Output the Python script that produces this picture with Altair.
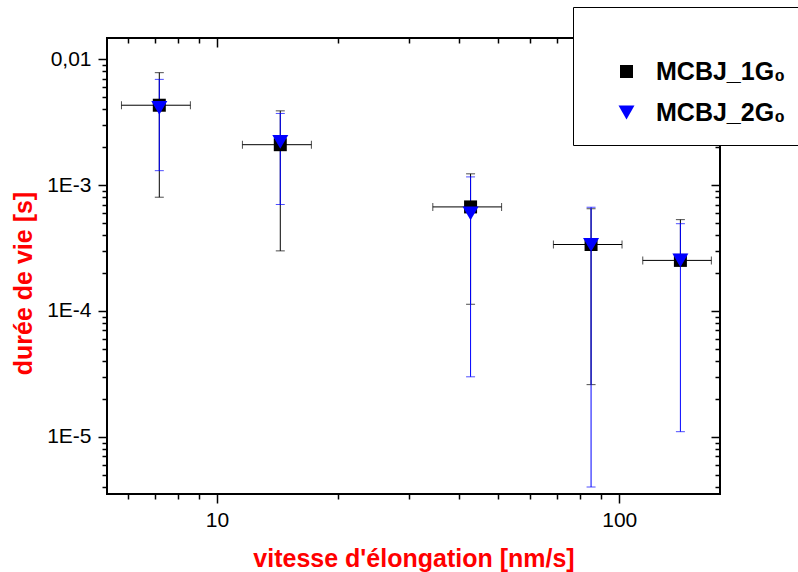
import altair as alt
import pandas as pd

# ---- data ----
series_names = ["MCBJ_1G₀", "MCBJ_2G₀"]
series_colors = ["black", "blue"]
rate = [7.19, 14.37, 42.7, 85.1, 141.9]              # nm/s
rate_err = [1.4, 2.8, 8.3, 16.5, 27.5]
life_1g0 = [4.3e-3, 2.09e-3, 6.7e-4, 3.37e-4, 2.52e-4]   # s
life_1g0_err = [3.5e-3, 1.79e-3, 5.57e-4, 3.11e-4, 2.79e-4]
life_2g0 = [4.1e-3, 2.2e-3, 5.95e-4, 3.35e-4, 2.52e-4]
life_2g0_err = [2.8e-3, 1.5e-3, 5.65e-4, 3.31e-4, 2.41e-4]

x_ticks = [6, 7, 8, 9, 10, 20, 30, 40, 50, 60, 70, 80, 90, 100]
y_ticks = [round(m * 10.0 ** e, 12) for e in range(-6, -1) for m in range(1, 10)
           if 3.5e-6 <= m * 10.0 ** e <= 0.0147]
x_domain = [5.33, 178]
y_domain = [3.52e-6, 0.0147]

rows = []
for name, ys, es in [(series_names[0], life_1g0, life_1g0_err),
                     (series_names[1], life_2g0, life_2g0_err)]:
    for x, xe, y, e in zip(rate, rate_err, ys, es):
        lo = y - e
        rows.append(dict(series=name, x=x, xlo=x - xe, xhi=x + xe, y=y,
                         yhi=y + e, ylo=lo if lo > 0 else y, has_lo=lo > 0))
df = pd.DataFrame(rows)

MAJOR = "abs(log(datum.value)/LN10 - round(log(datum.value)/LN10)) < 0.001"

xs = alt.Scale(type="log", domain=x_domain, nice=False)
ys = alt.Scale(type="log", domain=y_domain, nice=False)

x_bottom = alt.Axis(
    orient="bottom", values=x_ticks, grid=False, domain=False,
    labelExpr=f"({MAJOR}) ? format(datum.value, 'd') : ''",
    tickSize={"condition": {"test": MAJOR, "value": 9}, "value": 5},
    tickColor="black", tickWidth=1.5, labelFontSize=21, labelColor="black",
    labelPadding=6, labelOverlap=False, labelFlush=False,
    title="vitesse d'élongation [nm/s]", titleFontSize=25, titleFontWeight="bold",
    titleColor="red", titleY=72, titleBaseline="alphabetic")
y_left = alt.Axis(
    orient="left", values=y_ticks, grid=False, domain=False,
    labelExpr=(f"({MAJOR}) ? (datum.value >= 0.005 ? replace(format(datum.value, '.2f'), '.', ',') "
               f": '1E' + round(log(datum.value)/LN10)) : ''"),
    tickSize={"condition": {"test": MAJOR, "value": 9}, "value": 5},
    tickColor="black", tickWidth=1.5, labelFontSize=21, labelColor="black",
    labelPadding=7, labelOverlap=False, labelFlush=False,
    title="durée de vie [s]", titleFontSize=25, titleFontWeight="bold",
    titleColor="red", titleX=-76, titleY=245, titleAngle=270,
    titleAlign="center", titleBaseline="alphabetic")
x_top = alt.Axis(
    orient="top", values=x_ticks, grid=False, domain=False, labels=False, title="",
    tickSize={"condition": {"test": MAJOR, "value": -9}, "value": -5},
    tickColor="black", tickWidth=1.5)
y_right = alt.Axis(
    orient="right", values=y_ticks, grid=False, domain=False, labels=False, title="",
    tickSize={"condition": {"test": MAJOR, "value": -9}, "value": -5},
    tickColor="black", tickWidth=1.5)

layers = []
first = True
for name, col in zip(series_names, series_colors):
    d = df[df.series == name]
    layers.append(alt.Chart(d).mark_rule(strokeWidth=1, color=col, clip=True).encode(
        x=alt.X("x:Q", scale=xs, axis=x_top if first else None),
        y=alt.Y("ylo:Q", scale=ys, axis=y_right if first else None),
        y2="yhi:Q",
    ))
    first = False
    layers.append(alt.Chart(d).mark_tick(orient="horizontal", size=9, thickness=1,
                                         color=col, clip=True).encode(
        x=alt.X("x:Q", scale=xs, axis=None),
        y=alt.Y("yhi:Q", scale=ys, axis=None),
    ))
    layers.append(alt.Chart(d[d.has_lo]).mark_tick(orient="horizontal", size=9, thickness=1,
                                                   color=col, clip=True).encode(
        x=alt.X("x:Q", scale=xs, axis=None),
        y=alt.Y("ylo:Q", scale=ys, axis=None),
    ))

# horizontal error bars (black series only)
d1 = df[df.series == series_names[0]]
layers.insert(0, alt.Chart(d1).mark_rule(strokeWidth=1, color="black", clip=True).encode(
    x=alt.X("xlo:Q", scale=xs, axis=None), x2="xhi:Q",
    y=alt.Y("y:Q", scale=ys, axis=None)))
for fld in ["xlo", "xhi"]:
    layers.insert(1, alt.Chart(d1).mark_tick(orient="vertical", size=8, thickness=1,
                                             color="black", clip=True).encode(
        x=alt.X(f"{fld}:Q", scale=xs, axis=None),
        y=alt.Y("y:Q", scale=ys, axis=None)))

legend = alt.Legend(
    orient="none", legendX=466, legendY=-31, title=" ", titleFontSize=20,
    titlePadding=13, padding=19, strokeColor="black", fillColor="white",
    labelFontSize=25, labelFontWeight="bold", labelColor="black",
    symbolOffset=22, labelOffset=17, rowPadding=15, labelLimit=300,
    symbolStrokeWidth=0)

points = alt.Chart(df).mark_point(filled=True, opacity=1, strokeWidth=0).encode(
    x=alt.X("x:Q", scale=xs, axis=x_bottom),
    y=alt.Y("y:Q", scale=ys, axis=y_left),
    color=alt.Color("series:N", scale=alt.Scale(domain=series_names, range=series_colors),
                    legend=legend, title=" "),
    shape=alt.Shape("series:N", scale=alt.Scale(domain=series_names,
                                                range=["square", "triangle-down"]),
                    legend=legend, title=" "),
    size=alt.Size("series:N", scale=alt.Scale(domain=series_names, range=[169, 256]),
                  legend=legend, title=" "),
)
layers.append(points)

chart = alt.layer(*layers).resolve_axis(
    x="independent", y="independent"
).properties(
    width=613, height=456,
    autosize=alt.AutoSizeParams(type="none"),
    padding={"left": 107, "top": 38, "right": 78, "bottom": 78},
).configure(font="Liberation Sans").configure_view(stroke="black", strokeWidth=2)

chart.save("out.html", embed_options={"renderer": "svg", "actions": False})
